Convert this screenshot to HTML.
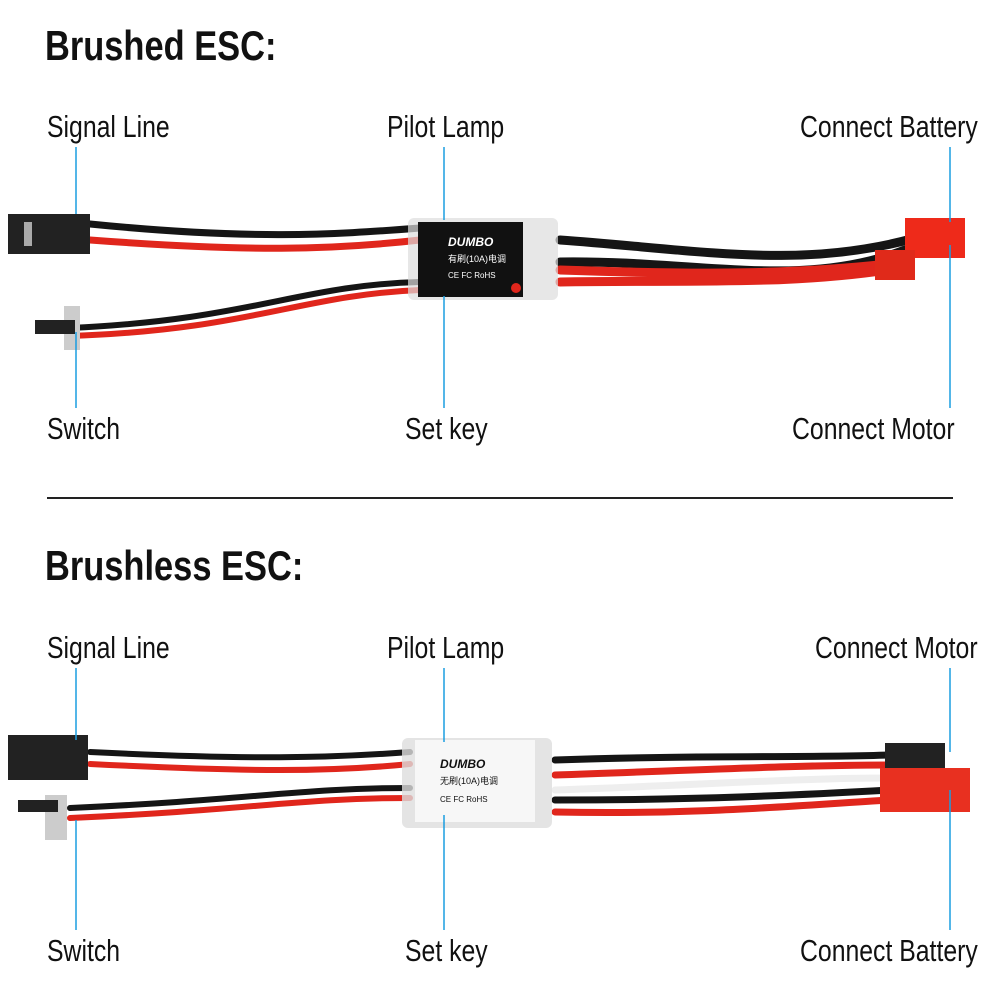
<!DOCTYPE html>
<html><head><style>body{margin:0;background:#fff}svg{display:block}</style></head><body>
<svg width="1000" height="1000" viewBox="0 0 1000 1000" xmlns="http://www.w3.org/2000/svg" font-family="Liberation Sans, sans-serif">
<g fill="#111">
<text transform="translate(45,60) scale(0.82,1)" font-size="42" font-weight="bold">Brushed ESC:</text>
<text transform="translate(45,580) scale(0.82,1)" font-size="42" font-weight="bold">Brushless ESC:</text>
<g font-size="31">
<text transform="translate(47,137) scale(0.8,1)">Signal Line</text>
<text transform="translate(387,137) scale(0.8,1)">Pilot Lamp</text>
<text transform="translate(800,137) scale(0.8,1)">Connect Battery</text>
<text transform="translate(47,439) scale(0.8,1)">Switch</text>
<text transform="translate(405,439) scale(0.8,1)">Set key</text>
<text transform="translate(792,439) scale(0.8,1)">Connect Motor</text>
<text transform="translate(47,658) scale(0.8,1)">Signal Line</text>
<text transform="translate(387,658) scale(0.8,1)">Pilot Lamp</text>
<text transform="translate(815,658) scale(0.8,1)">Connect Motor</text>
<text transform="translate(47,961) scale(0.8,1)">Switch</text>
<text transform="translate(405,961) scale(0.8,1)">Set key</text>
<text transform="translate(800,961) scale(0.8,1)">Connect Battery</text>
</g></g>
<line x1="47" y1="498" x2="953" y2="498" stroke="#222" stroke-width="2"/>
<g fill="none" stroke-linecap="round">
<path d="M90 224 C250 240 330 235 420 228" stroke="#151515" stroke-width="7"/>
<path d="M90 240 C250 252 330 250 420 240" stroke="#e0261c" stroke-width="7"/>
<path d="M70 328 C250 320 300 285 420 282" stroke="#151515" stroke-width="6"/>
<path d="M70 336 C250 330 300 295 420 290" stroke="#e0261c" stroke-width="6"/>
<path d="M560 240 C700 250 800 270 915 238" stroke="#151515" stroke-width="9"/>
<path d="M560 262 C700 260 800 290 905 250" stroke="#151515" stroke-width="9"/>
<path d="M560 270 C700 275 800 275 905 262" stroke="#e0261c" stroke-width="9"/>
<path d="M560 282 C700 280 800 285 900 268" stroke="#e0261c" stroke-width="9"/>
</g>
<rect x="8" y="214" width="82" height="40" fill="#222"/>
<rect x="24" y="222" width="8" height="24" fill="#aaa"/>
<rect x="64" y="306" width="16" height="44" fill="#ccc"/>
<rect x="35" y="320" width="40" height="14" fill="#222"/>
<rect x="408" y="218" width="150" height="82" rx="6" fill="#ddd" opacity=".7"/>
<rect x="418" y="222" width="105" height="75" fill="#111"/>
<text x="448" y="246" font-size="12" font-weight="bold" fill="#fff" font-style="italic">DUMBO</text>
<text x="448" y="262" font-size="9" fill="#fff" font-family="Liberation Sans, Noto Sans CJK SC, sans-serif">有刷(10A)电调</text>
<text x="448" y="278" font-size="8" fill="#fff">CE FC RoHS</text>
<circle cx="516" cy="288" r="5" fill="#e0261c"/>
<rect x="905" y="218" width="60" height="40" fill="#ee2a1a"/>
<rect x="875" y="250" width="40" height="30" fill="#e02a1a"/>
<g fill="none" stroke-linecap="round">
<path d="M90 752 C250 760 330 758 410 752" stroke="#151515" stroke-width="6"/>
<path d="M90 764 C250 772 330 772 410 764" stroke="#e0261c" stroke-width="6"/>
<path d="M70 808 C250 800 300 788 410 788" stroke="#151515" stroke-width="6"/>
<path d="M70 818 C250 810 300 798 410 798" stroke="#e0261c" stroke-width="6"/>
<path d="M555 760 C700 755 800 758 890 755" stroke="#151515" stroke-width="7"/>
<path d="M555 775 C700 770 800 765 890 765" stroke="#e0261c" stroke-width="7"/>
<path d="M555 790 C700 785 800 778 890 778" stroke="#eee" stroke-width="7"/>
<path d="M555 800 C700 800 800 795 890 790" stroke="#151515" stroke-width="7"/>
<path d="M555 812 C700 815 800 805 890 800" stroke="#e0261c" stroke-width="7"/>
</g>
<rect x="8" y="735" width="80" height="45" fill="#222"/>
<rect x="45" y="795" width="22" height="45" fill="#ccc"/>
<rect x="18" y="800" width="40" height="12" fill="#222"/>
<rect x="402" y="738" width="150" height="90" rx="6" fill="#ddd" opacity=".8"/>
<rect x="415" y="740" width="120" height="82" fill="#f7f7f7"/>
<text x="440" y="768" font-size="12" font-weight="bold" fill="#111" font-style="italic">DUMBO</text>
<text x="440" y="784" font-size="9" fill="#111" font-family="Liberation Sans, Noto Sans CJK SC, sans-serif">无刷(10A)电调</text>
<text x="440" y="802" font-size="8" fill="#111">CE FC RoHS</text>
<rect x="885" y="743" width="60" height="34" fill="#222"/>
<rect x="880" y="768" width="90" height="44" fill="#e83020"/>
<g stroke="#1a9de0" stroke-width="1.5">
<line x1="76" y1="147" x2="76" y2="214"/><line x1="444" y1="147" x2="444" y2="220"/><line x1="950" y1="147" x2="950" y2="222"/>
<line x1="76" y1="332" x2="76" y2="408"/><line x1="444" y1="296" x2="444" y2="408"/><line x1="950" y1="245" x2="950" y2="408"/>
<line x1="76" y1="668" x2="76" y2="740"/><line x1="444" y1="668" x2="444" y2="742"/><line x1="950" y1="668" x2="950" y2="752"/>
<line x1="76" y1="820" x2="76" y2="930"/><line x1="444" y1="815" x2="444" y2="930"/><line x1="950" y1="790" x2="950" y2="930"/>
</g>
</svg>
</body></html>
